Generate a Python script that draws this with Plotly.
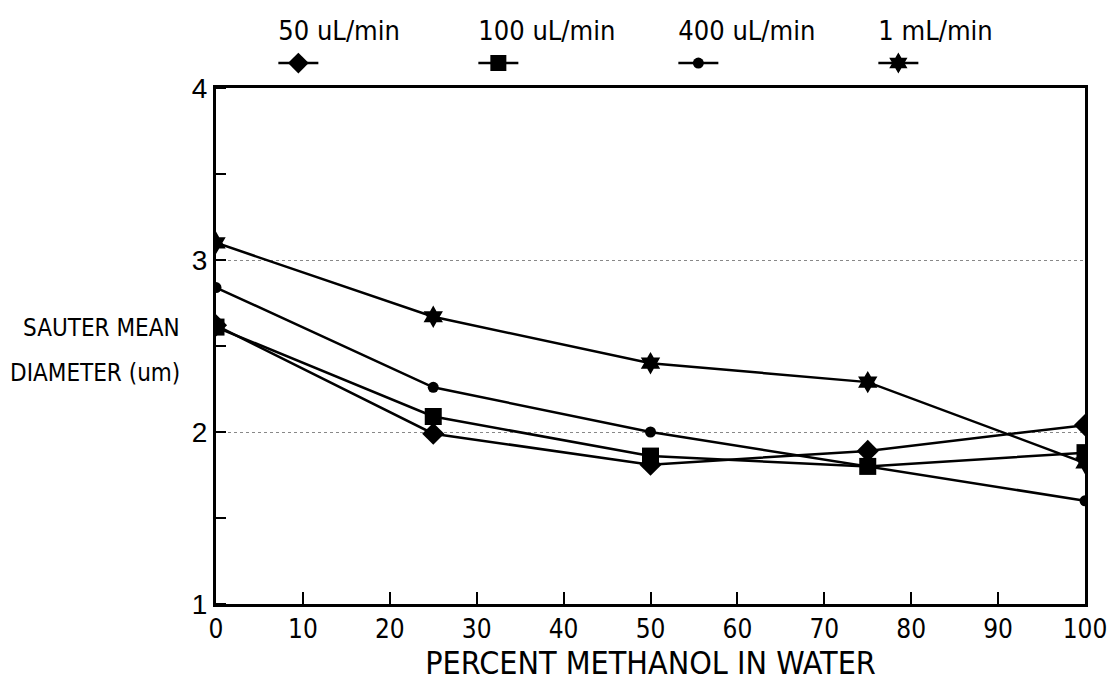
import plotly.graph_objects as go

percent_methanol = [0, 25, 50, 75, 100]
flow_rates = ["50 uL/min", "100 uL/min", "400 uL/min", "1 mL/min"]
d_50ul = [2.62, 1.99, 1.81, 1.89, 2.04]
d_100ul = [2.61, 2.09, 1.86, 1.80, 1.88]
d_400ul = [2.84, 2.26, 2.00, 1.80, 1.60]
d_1ml = [3.10, 2.67, 2.40, 2.29, 1.82]
x_ticks = list(range(0, 101, 10))
y_ticks = [1, 2, 3, 4]
y_title_lines = ["SAUTER MEAN", "DIAMETER (um)"]

series = [d_50ul, d_100ul, d_400ul, d_1ml]
symbols = ["diamond", "square", "circle", "hexagram"]
sizes = [17, 17, 11, 17]

FONT = "DejaVu Sans Condensed, Liberation Sans Narrow, Arial Narrow, sans-serif"

fig = go.Figure()
for name, ys, sym, sz in zip(flow_rates, series, symbols, sizes):
    fig.add_trace(go.Scatter(
        x=percent_methanol, y=ys, name="", mode="lines+markers",
        legendgroup=name,
        legendgrouptitle=dict(text=name, font=dict(family=FONT, size=27, color="black")),
        hovertemplate=name + ": %{y}<extra></extra>",
        line=dict(color="black", width=2.5),
        marker=dict(symbol=sym, size=sz, color="black"),
    ))

fig.update_layout(
    width=1109, height=683,
    margin=dict(l=216, r=24, t=88, b=79, autoexpand=False),
    paper_bgcolor="white", plot_bgcolor="white",
    font=dict(family=FONT, color="black", size=26),
    showlegend=True,
    legend=dict(
        orientation="h", x=0.066, y=1.16, xanchor="left", yanchor="top",
        font=dict(family=FONT, size=20, color="black"),
        bgcolor="rgba(0,0,0,0)", itemwidth=40,
        entrywidth=145, entrywidthmode="pixels",
        traceorder="grouped",
    ),
    xaxis=dict(
        range=[0, 100], tickvals=x_ticks, ticktext=[str(v) for v in x_ticks],
        ticks="inside", ticklen=12, tickwidth=1.5, tickcolor="black",
        showline=True, linecolor="black", linewidth=3, mirror=True,
        showgrid=False, zeroline=False,
        tickfont=dict(family=FONT, size=26),
        title=dict(text="PERCENT METHANOL IN WATER", font=dict(family=FONT, size=32), standoff=4),
    ),
    yaxis=dict(
        range=[1, 4], tickvals=y_ticks, ticktext=[str(v) for v in y_ticks],
        ticks="", showline=True, linecolor="black", linewidth=3, mirror=True,
        showgrid=True, gridcolor="#888888", griddash="dot", gridwidth=1,
        zeroline=False,
        tickfont=dict(family="Liberation Sans, Arial, sans-serif", size=28),
        minor=dict(dtick=0.5, tick0=1, ticks="inside", ticklen=10, tickwidth=1.5,
                   tickcolor="black", showgrid=False),
    ),
)

for line_text, ypos in zip(y_title_lines, [0.535, 0.448]):
    fig.add_annotation(
        text=line_text, xref="paper", yref="paper",
        x=-0.039, y=ypos, xanchor="right", yanchor="middle", showarrow=False,
        font=dict(family=FONT, size=24, color="black"),
    )

# remove the browser's default 8px body margin so the figure fills the window exactly
fig.write_html(
    "out.html",
    config={"displayModeBar": False},
    post_script="document.body.style.margin='0px';",
)
